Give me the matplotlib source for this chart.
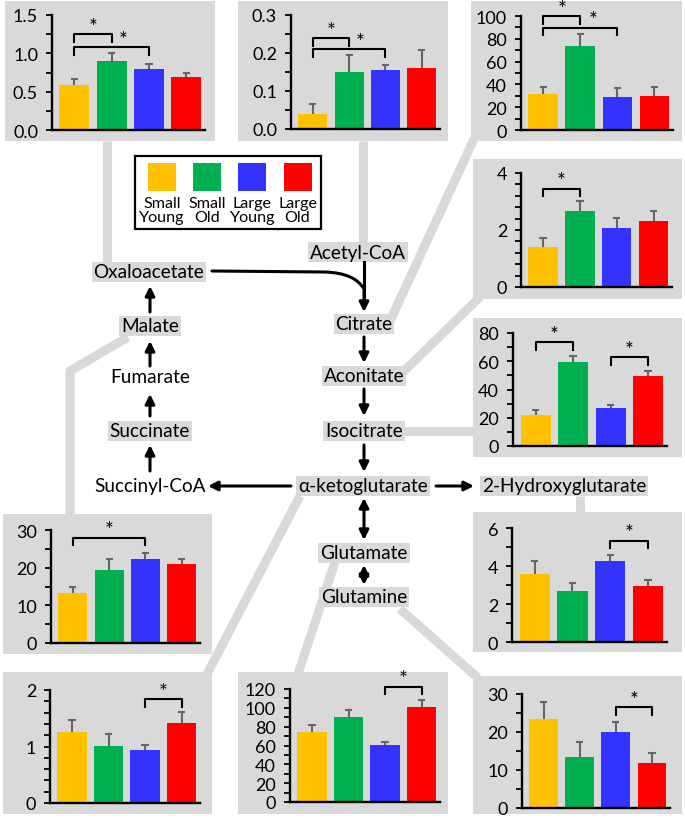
import numpy as np
import matplotlib
matplotlib.use("Agg")
import matplotlib.pyplot as plt
from matplotlib.patches import Rectangle, FancyArrowPatch
from matplotlib.path import Path
from matplotlib.ticker import MultipleLocator, FormatStrFormatter

plt.rcParams['font.family'] = ['Lato', 'DejaVu Sans']

# groups and colours
groups = ['Small\nYoung', 'Small\nOld', 'Large\nYoung', 'Large\nOld']
colors = ['#FFC000', '#00B050', '#3333FF', '#FF0000']

# metabolite levels (mean, sem)
oxaloacetate = [0.59, 0.90, 0.79, 0.69]
oxaloacetate_err = [0.07, 0.11, 0.07, 0.05]
acetylcoa = [0.039, 0.150, 0.156, 0.160]
acetylcoa_err = [0.027, 0.045, 0.013, 0.049]
citrate = [31.6, 74.0, 28.7, 29.8]
citrate_err = [5.8, 10.0, 8.1, 8.2]
aconitate = [1.41, 2.66, 2.07, 2.31]
aconitate_err = [0.30, 0.35, 0.34, 0.37]
isocitrate = [21.9, 59.2, 26.7, 49.3]
isocitrate_err = [3.8, 4.8, 2.5, 3.8]
hydroxyglutarate = [3.58, 2.70, 4.28, 2.93]
hydroxyglutarate_err = [0.67, 0.40, 0.30, 0.35]
malate = [13.4, 19.4, 22.2, 20.9]
malate_err = [1.6, 2.9, 1.7, 1.4]
akg = [1.26, 1.01, 0.94, 1.42]
akg_err = [0.21, 0.21, 0.09, 0.19]
glutamate = [74.0, 90.0, 60.5, 101.0]
glutamate_err = [8.0, 8.0, 3.5, 7.0]
glutamine = [23.4, 13.5, 19.9, 11.8]
glutamine_err = [4.6, 4.0, 2.7, 2.6]

# significance brackets: (bar i, bar j, height, star x)
oxaloacetate_sig = [(0, 1, 1.25, 0.5), (0, 2, 1.08, 1.3)]
acetylcoa_sig = [(0, 1, 0.239, 0.5), (0, 2, 0.21, 1.3)]
citrate_sig = [(0, 1, 99.7, 0.5), (0, 2, 89.5, 1.35)]
aconitate_sig = [(0, 1, 3.44, 0.5)]
isocitrate_sig = [(0, 1, 73.4, 0.5), (2, 3, 62.8, 2.5)]
hydroxyglutarate_sig = [(2, 3, 5.33, 2.5)]
malate_sig = [(0, 2, 27.9, 1.0)]
akg_sig = [(2, 3, 1.84, 2.5)]
glutamate_sig = [(2, 3, 122.5, 2.5)]
glutamine_sig = [(2, 3, 26.5, 2.5)]

W, H = 685, 820
GRAY = '#D9D9D9'
fig = plt.figure(figsize=(W / 100, H / 100), dpi=100)
fig.patch.set_facecolor('white')

# background axes in pixel coordinates
bg = fig.add_axes([0, 0, 1, 1])
bg.set_xlim(0, W)
bg.set_ylim(H, 0)
bg.axis('off')

# gray connectors
connectors = [
    [(107, 142), (107, 265)],
    [(363, 142), (363, 245)],
    [(474, 140), (390, 322)],
    [(480, 298), (398, 378)],
    [(400, 432), (475, 432)],
    [(580, 497), (580, 515)],
    [(128, 338), (70, 372), (70, 517)],
    [(300, 497), (207, 675)],
    [(335, 563), (298, 675)],
    [(400, 610), (478, 679)],
]
for c in connectors:
    xs, ys = zip(*c)
    bg.plot(xs, ys, color=GRAY, lw=6.5, solid_capstyle='butt', zorder=1)

# metabolite labels
nodes = {
    'Oxaloacetate': (149, 273, True),
    'Malate': (150, 327, True),
    'Fumarate': (150, 378, False),
    'Succinate': (150, 432, True),
    'Succinyl-CoA': (150, 487, False),
    'Acetyl-CoA': (358, 253, True),
    'Citrate': (364, 325, True),
    'Aconitate': (364, 377, True),
    'Isocitrate': (364, 432, True),
    'α-ketoglutarate': (363, 487, True),
    '2-Hydroxyglutarate': (564, 487, True),
    'Glutamate': (364, 554, True),
    'Glutamine': (364, 598, True),
}
for name, (x, y, boxed) in nodes.items():
    kw = dict(ha='center', va='center', fontsize=13.7, zorder=4)
    if boxed:
        kw['bbox'] = dict(boxstyle='square,pad=0.1', fc=GRAY, ec='none')
    bg.text(x, y, name, **kw)


def arrow(p0, p1, style='-|>'):
    a = FancyArrowPatch(p0, p1, arrowstyle=style, mutation_scale=14,
                        lw=2.2, color='black', shrinkA=0, shrinkB=0, zorder=5)
    bg.add_patch(a)


# pathway arrows
arrow((150, 472), (150, 446))
arrow((150, 417), (150, 395))
arrow((150, 367), (150, 342))
arrow((150, 313), (150, 287))
arrow((364, 338), (364, 364))
arrow((364, 390), (364, 417))
arrow((364, 446), (364, 473))
arrow((291, 487), (208, 487))
arrow((436, 487), (474, 487))
arrow((364, 499), (364, 541), '<|-|>')
arrow((364, 566), (364, 586), '<|-|>')
bg.plot([364, 364], [263, 300], color='black', lw=2.2, zorder=5)
curve = Path([(212, 272), (325, 273), (355, 274), (364, 290), (364, 313)],
             [Path.MOVETO, Path.LINETO, Path.CURVE3, Path.CURVE3, Path.LINETO])
bg.add_patch(FancyArrowPatch(path=curve, arrowstyle='-|>', mutation_scale=14,
                             lw=2.2, color='black', zorder=5))

# legend
bg.add_patch(Rectangle((135, 157), 186, 73, fc='white', ec='black', lw=1.6, zorder=3))
for k, (g, col) in enumerate(zip(groups, colors)):
    cx = 162 + 45.2 * k
    bg.add_patch(Rectangle((cx - 14, 164), 28, 28, fc=col, ec='none', zorder=4))
    bg.text(cx, 211, g, ha='center', va='center', fontsize=11.6,
            linespacing=1.05, zorder=4)

# panels: (values, errors, sig, box, axes px, ymax, major, minor, fmt)
panels = [
    (oxaloacetate, oxaloacetate_err, oxaloacetate_sig, (5, 2, 215, 142), (52, 205, 131, 16), 1.5, 0.5, 0.25, '%.1f'),
    (acetylcoa, acetylcoa_err, acetylcoa_sig, (238, 2, 448, 142), (291, 440, 130, 16), 0.3, 0.1, 0.05, '%.1f'),
    (citrate, citrate_err, citrate_sig, (471, 2, 682, 142), (521, 673, 131, 17), 100, 20, 10, '%d'),
    (aconitate, aconitate_err, aconitate_sig, (473, 160, 682, 300), (521, 672, 288, 174), 4, 2, 0.4, '%d'),
    (isocitrate, isocitrate_err, isocitrate_sig, (473, 319, 682, 458), (513, 667, 447, 334), 80, 20, 10, '%d'),
    (hydroxyglutarate, hydroxyglutarate_err, hydroxyglutarate_sig, (473, 513, 682, 653), (512, 667, 643, 529), 6, 2, 1, '%d'),
    (malate, malate_err, malate_sig, (3, 515, 212, 655), (51, 200, 644, 531), 30, 10, 5, '%d'),
    (akg, akg_err, akg_sig, (3, 673, 212, 815), (50, 200, 804, 691), 2, 1, 0.2, '%d'),
    (glutamate, glutamate_err, glutamate_sig, (238, 673, 448, 815), (290, 440, 803, 690), 120, 20, 10, '%d'),
    (glutamine, glutamine_err, glutamine_sig, (473, 677, 682, 815), (522, 670, 809, 695), 30, 10, 5, '%d'),
]

x = np.arange(4)
for vals, errs, sig, box, apx, ymax, major, minor, fmt in panels:
    bx0, by0, bx1, by1 = box
    bg.add_patch(Rectangle((bx0, by0), bx1 - bx0, by1 - by0, fc=GRAY, ec='none', zorder=2))
    ax0, ax1, yb, yt = apx
    ax = fig.add_axes([ax0 / W, 1 - yb / H, (ax1 - ax0) / W, (yb - yt) / H])
    ax.patch.set_alpha(0)
    ax.bar(x, vals, width=0.8, color=colors, edgecolor='none', zorder=2)
    tops = np.array(vals) + np.array(errs)
    ax.vlines(x, vals, tops, color='#666666', lw=1.5, zorder=1)
    ax.hlines(tops, x - 0.1, x + 0.1, color='#666666', lw=1.5, zorder=1)
    ax.set_xlim(-0.6, 3.5)
    ax.set_ylim(0, ymax)
    ax.set_xticks([])
    ax.yaxis.set_major_locator(MultipleLocator(major))
    ax.yaxis.set_minor_locator(MultipleLocator(minor))
    ax.yaxis.set_major_formatter(FormatStrFormatter(fmt))
    ax.tick_params(axis='y', which='both', direction='out', length=4, width=1.3,
                   labelsize=13, pad=6)
    for s in ['top', 'right']:
        ax.spines[s].set_visible(False)
    for s in ['left', 'bottom']:
        ax.spines[s].set_linewidth(1.7)
    leg = 7.5 / (yb - yt) * ymax
    for i, j, h, sx in sig:
        ax.plot([i, i, j, j], [h - leg, h, h, h - leg], color='black', lw=1.5,
                clip_on=False, zorder=3)
        ax.text(sx, h + 0.2 * leg, '*', ha='center', va='baseline', fontsize=15,
                clip_on=False)

fig.savefig('out.png', dpi=100, facecolor='white')
